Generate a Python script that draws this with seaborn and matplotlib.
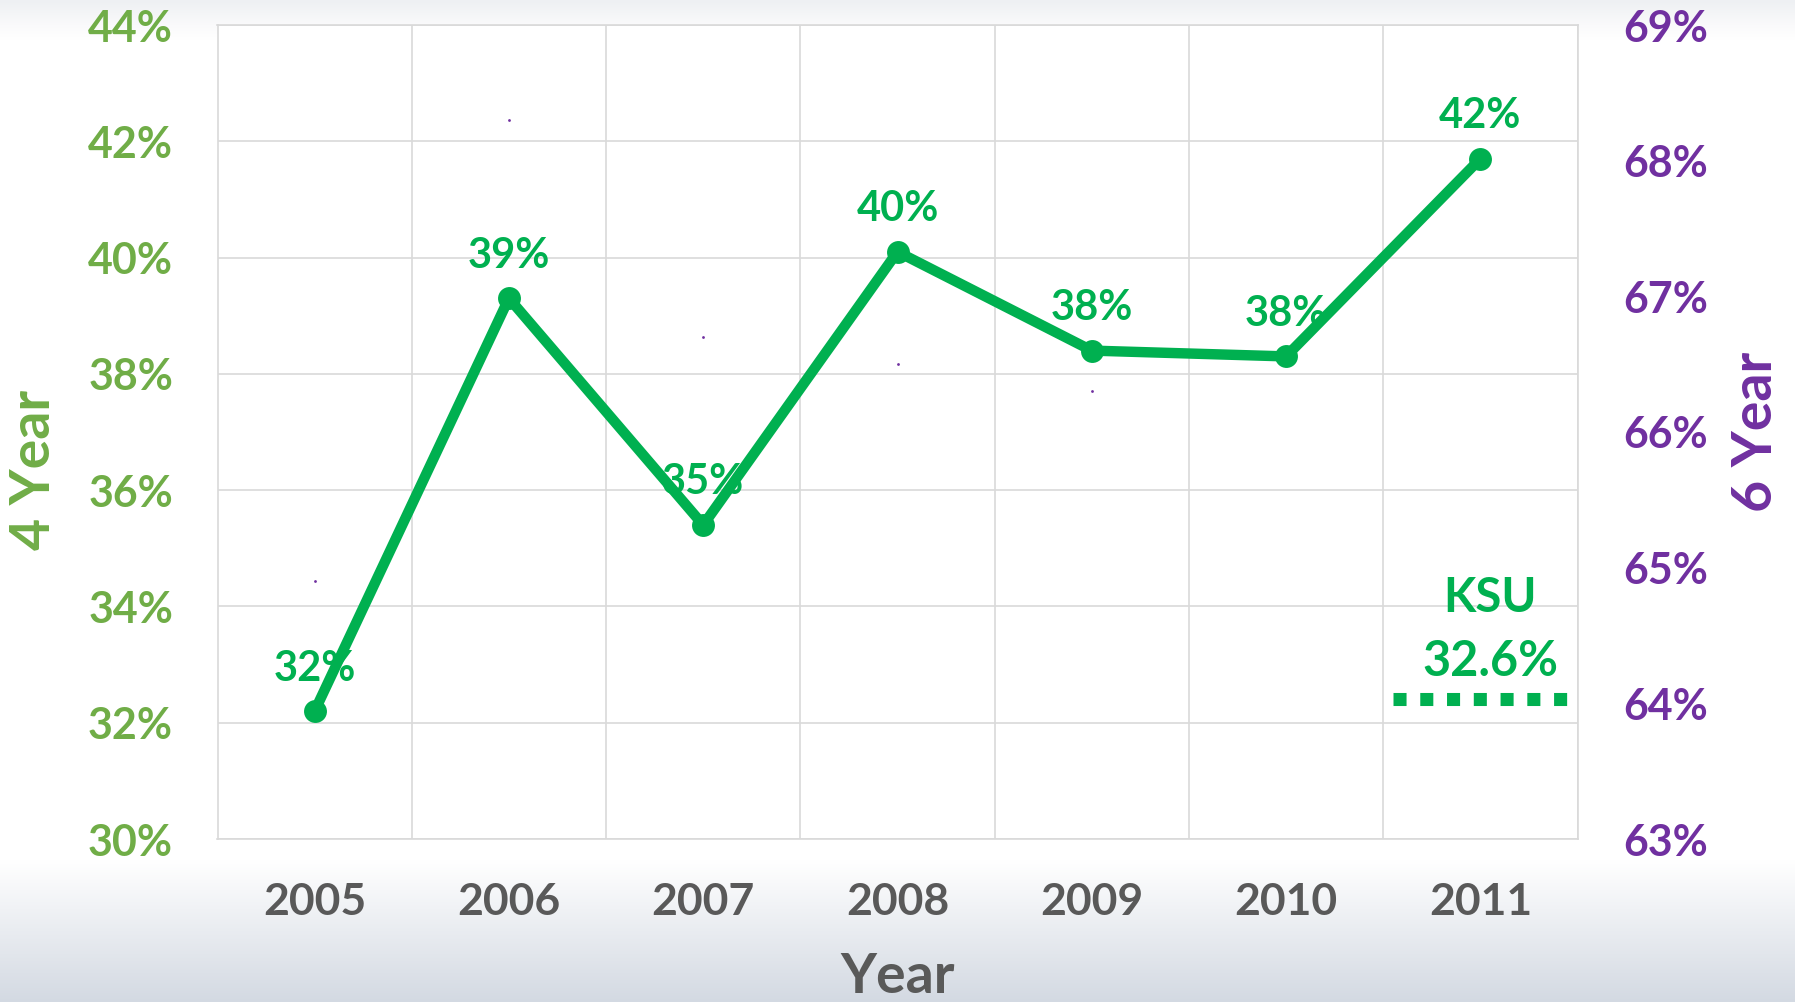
import numpy as np
import pandas as pd
import seaborn as sns
import matplotlib.pyplot as plt

# graduation rates
years = ['2005', '2006', '2007', '2008', '2009', '2010', '2011']
rate_4yr = [32.2, 39.3, 35.4, 40.1, 38.4, 38.3, 41.7]
rate_6yr = [64.9, 68.3, 66.7, 66.5, 66.3, np.nan, np.nan]   # only faint specks are visible
ksu_label = 'KSU'
ksu_value = '32.6%'
ksu_level = 32.4

left_ticks = [30, 32, 34, 36, 38, 40, 42, 44]
right_ticks = [63, 64, 65, 66, 67, 68, 69]

GREEN = '#00B050'
LIGHT_GREEN = '#70AD47'
PURPLE = '#7030A0'
GREY = '#595959'
GRID = '#D9D9D9'

sns.set_theme(style='white')
plt.rcParams['font.family'] = ['Lato', 'DejaVu Sans']
plt.rcParams['font.weight'] = 'bold'

W, H = 1795, 1002
fig = plt.figure(figsize=(W / 100, H / 100), dpi=100)

# slide background: thin grey band on top, blue-grey fade at the bottom
rows = np.arange(H)
stops = [0, 25, 40, 860, H]
cols = np.array([[0xEE, 0xF0, 0xF3], [0xFA, 0xFA, 0xFB], [0xFF, 0xFF, 0xFF],
                 [0xFF, 0xFF, 0xFF], [0xD3, 0xD9, 0xE2]]) / 255
grad = np.stack([np.interp(rows, stops, cols[:, c]) for c in range(3)], axis=1)
bg = fig.add_axes([0, 0, 1, 1], zorder=-10)
bg.imshow(grad[:, None, :], aspect='auto', extent=[0, 1, 0, 1])
bg.axis('off')

ax = fig.add_axes([217.5 / W, 163 / H, 1360 / W, 814 / H])
ax.set_facecolor('white')

df = pd.DataFrame({'year': years, 'rate': rate_4yr})
sns.lineplot(data=df, x='year', y='rate', ax=ax, color=GREEN, linewidth=7.5,
             marker='o', markersize=16.5, markeredgewidth=0, zorder=3)

for i, v in enumerate(rate_4yr):
    ax.annotate(f'{v:.0f}%', (i, v), xytext=(0, 22), textcoords='offset points',
                ha='center', va='baseline', fontsize=30, color=GREEN,
                fontweight='bold', zorder=2)

# KSU reference marker
ax.plot([5.55, 6.45], [ksu_level, ksu_level], color=GREEN, linewidth=9.4,
        linestyle=(0, (1, 1.05)), dash_capstyle='butt', zorder=3)
ax.annotate(ksu_label, (6.05, ksu_level), xytext=(0, 63), textcoords='offset points',
            ha='center', va='baseline', fontsize=34, color=GREEN, fontweight='bold')
ax.annotate(ksu_value, (6.05, ksu_level), xytext=(0, 17), textcoords='offset points',
            ha='center', va='baseline', fontsize=35, color=GREEN, fontweight='bold')

ax.set_xlim(-0.5, 6.5)
ax.set_ylim(30, 44)
ax.set_yticks(left_ticks)
ax.set_yticklabels([f'{t}%' for t in left_ticks])
ax.set_xticks(np.arange(-0.5, 7, 1), minor=True)
ax.grid(which='major', axis='y', color=GRID, linewidth=1.2)
ax.grid(which='minor', axis='x', color=GRID, linewidth=1.2)
ax.grid(which='major', axis='x', visible=False)
ax.tick_params(axis='x', which='both', length=0)
ax.tick_params(axis='x', which='major', labelsize=32, labelcolor=GREY, pad=31)
ax.tick_params(axis='y', length=0, labelsize=31, labelcolor=LIGHT_GREEN, pad=32)
ax.set_xlabel('')
ax.set_ylabel('')
for s in ax.spines.values():
    s.set_color(GRID)
    s.set_linewidth(1.2)

ax2 = ax.twinx()
sns.scatterplot(x=years, y=rate_6yr, ax=ax2, s=4, color=PURPLE, linewidth=0)
ax2.set_ylim(63, 69)
ax2.set_yticks(right_ticks)
ax2.set_yticklabels([f'{t}%' for t in right_ticks])
ax2.tick_params(axis='y', length=0, labelsize=31, labelcolor=PURPLE, pad=33)
ax2.set_ylabel('')
for s in ax2.spines.values():
    s.set_visible(False)

fig.text(897.5 / W, (H - 993) / H, 'Year', ha='center', va='baseline',
         fontsize=40, color=GREY, fontweight='bold')
fig.text(34 / W, 1 - 470 / H, '4 Year', ha='center', va='center', rotation=90,
         fontsize=40, color=LIGHT_GREEN, fontweight='bold')
fig.text(1756 / W, 1 - 432 / H, '6 Year', ha='center', va='center', rotation=90,
         fontsize=40, color=PURPLE, fontweight='bold')

fig.savefig('out.png', dpi=100)
